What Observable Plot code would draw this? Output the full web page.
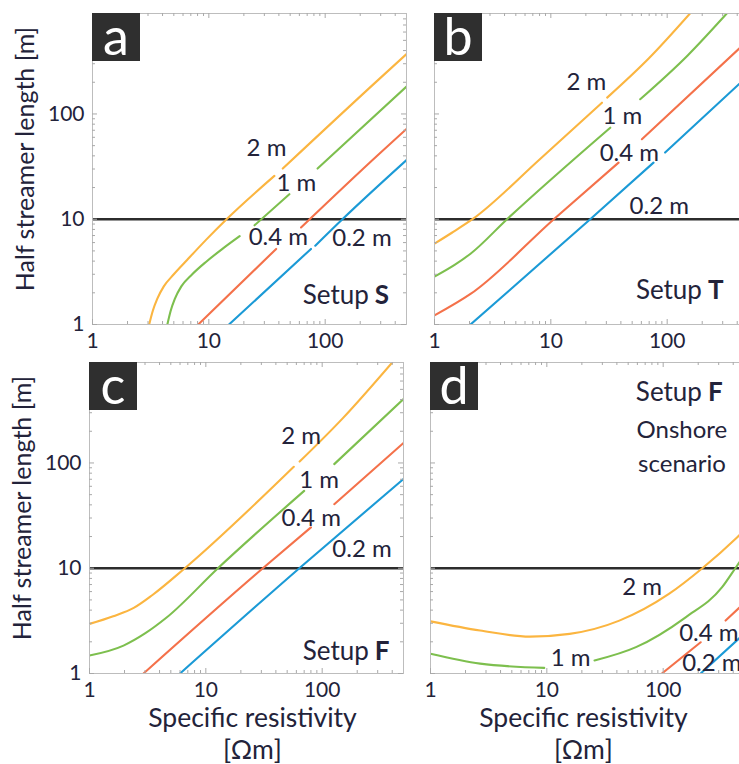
<!DOCTYPE html>
<html>
<head>
<meta charset="utf-8">
<script src="https://cdn.jsdelivr.net/npm/d3@7"></script>
<script src="https://cdn.jsdelivr.net/npm/@observablehq/plot@0.6"></script>
<style>
  body { margin: 0; background: #fff; }
  #fig { position: relative; width: 739px; height: 764px; overflow: hidden; background: #fff; font-family: Lato, sans-serif; }
  #fig svg { position: absolute; max-width: none; }
  .tag { position: absolute; width: 48px; height: 48px; background: #2f2f2f; color: #fff;
         font: 52px/44px Lato, sans-serif; text-align: center; }
</style>
</head>
<body>
<div id="fig"></div>
<script>
// Electrode spacings, one curve each
const spacings = ["2 m", "1 m", "0.4 m", "0.2 m"];
const colors = ["#fbb540", "#7dbf4e", "#f4714a", "#1b9ad6"];

// Axes: specific resistivity [Ωm] and half streamer length [m], both logarithmic
const xDomain = [1, 500];
const yDomain = [1, 900];
const xTicks = [1, 10, 100];
const yTicks = [1, 10, 100];
const threshold = 10;

// Curves as [resistivity, half streamer length]; null = break in the line
// (a) Setup S
const s2m  = [[3.07, 1], [3.3, 1.35], [3.6, 1.75], [4.1, 2.3], [5, 3.0], [6.5, 4.1], [9.5, 6.4], [14.2, 10], [36.6, 25.8], null, [43.2, 30.3], [289, 213], [500, 370]];
const s1m  = [[4.4, 1], [4.7, 1.35], [5.1, 1.75], [5.8, 2.3], [7.2, 3.0], [9.5, 3.95], [13, 5.2], [18.4, 6.9], null, [24.7, 8.75], [49.2, 17.3], null, [86, 30.3], [500, 182]];
const s04m = [[8.11, 1], [37.9, 5.22], null, [62, 8.36], [289, 41.5], [500, 72]];
const s02m = [[14.9, 1], [75.5, 5.22], null, [82.2, 5.61], [140.6, 10], [500, 36.5]];

// (b) Setup T
const t2m  = [[1, 5.86], [1.4, 7.4], [2.12, 10], [8, 37], [27.5, 128], null, [30.5, 143], [70, 340], [157, 900]];
const t1m  = [[1, 2.85], [1.5, 3.7], [2.04, 4.7], [4.2, 10], [32.4, 74], null, [58.6, 138], [150, 360], [325, 900]];
const t04m = [[1, 1.22], [2.04, 1.95], [10.6, 10], [38.2, 34.5], null, [60.6, 57.5], [500, 505]];
const t02m = [[2.04, 1], [21.8, 10], [76.3, 34.5], null, [96, 43], [500, 233]];

// (c) Setup F
const f2m  = [[1, 2.96], [1.6, 3.5], [2.4, 4.2], [3.5, 5.6], [6.6, 10], [57, 92], null, [64, 103], [150, 265], [400, 900]];
const f1m  = [[1, 1.48], [1.96, 1.84], [3, 2.4], [4.6, 3.4], [12.7, 10], [70, 54.3], null, [127, 97.5], [500, 404]];
const f04m = [[2.91, 1], [30.9, 10], [80, 24.4], null, [127, 40.6], [500, 155]];
const f02m = [[6, 1], [63.6, 10], [500, 70.5]];

// (d) Setup F, onshore scenario
const o2m  = [[1, 3.13], [2.67, 2.56], [7.16, 2.24], [15.7, 2.38], [42, 3.18], [112, 5.7], [217, 10], [431, 19.6], [500, 23]];
const o1m  = [[1, 1.54], [2.67, 1.24], [9.5, 1.13], null, [25.7, 1.33], [58.4, 1.78], [156, 3.42], [321, 6.6], [417, 10], [500, 13.4]];
const o04m = [[97.5, 1], [210, 1.98], null, [344, 3.18], [500, 4.7]];
const o02m = [[210, 1], [500, 2.4]];

// Curve labels, anchored in data units
const sLabels = [{x: 31.3, y: 47.6, text: "2 m"}, {x: 56.5, y: 21.7, text: "1 m"}, {x: 39.6, y: 6.68, text: "0.4 m"}, {x: 207, y: 6.53, text: "0.2 m"}];
const tLabels = [{x: 20.2, y: 198, text: "2 m"}, {x: 41.2, y: 95.7, text: "1 m"}, {x: 47.3, y: 42.7, text: "0.4 m"}, {x: 85.5, y: 13.4, text: "0.2 m"}];
const fLabels = [{x: 66, y: 180, text: "2 m"}, {x: 94.3, y: 69, text: "1 m"}, {x: 80.5, y: 30.1, text: "0.4 m"}, {x: 220, y: 15, text: "0.2 m"}];
const oLabels = [{x: 66, y: 6.53, text: "2 m"}, {x: 16, y: 1.39, text: "1 m"}, {x: 247, y: 2.39, text: "0.4 m"}, {x: 262, y: 1.24, text: "0.2 m"},
                 {x: 145, y: 206, text: "Onshore"}, {x: 145, y: 98, text: "scenario"}];

const ink = "#23233a";
const tickColor = "#a9a9a9";
const W = 314, H = 311;

function rowsOf(curves) {
  return curves.flatMap((pts, i) => {
    let seg = 0;
    return pts.flatMap(p => p === null ? (seg++, []) : [{spacing: spacings[i], seg: `${i}-${seg}`, x: p[0], y: p[1]}]);
  });
}

const xMinor = d3.scaleLog().domain(xDomain).ticks().filter(v => v < xDomain[1] && !xTicks.includes(v));
const yMinor = d3.scaleLog().domain(yDomain).ticks().filter(v => v < yDomain[1] && !yTicks.includes(v));

function frameTicks(xs, ys, len) {
  return [
    Plot.tickX(xs, {x: d => d, insetTop: H - len, stroke: tickColor}),
    Plot.tickX(xs, {x: d => d, insetBottom: H - len, stroke: tickColor}),
    Plot.tickY(ys, {y: d => d, insetRight: W - len, stroke: tickColor}),
    Plot.tickY(ys, {y: d => d, insetLeft: W - len, stroke: tickColor})
  ];
}

function panel({curves, labels, setup, tag, left, top, showY, bottomRow, titleDx = 0}) {
  const mL = 92, mT = 13, mR = 2, mB = bottomRow ? 90 : 30;
  const marks = [
    Plot.ruleY([threshold], {stroke: "#2c2c2c", strokeWidth: 2.6}),
    Plot.line(rowsOf(curves), {x: "x", y: "y", z: "seg", stroke: "spacing", strokeWidth: 2.1, curve: "monotone-x", clip: true}),
    Plot.frame({stroke: "#bdbdbd"}),
    ...frameTicks(xMinor, yMinor, 3),
    ...frameTicks(xTicks, yTicks, 5),
    Plot.axisX(xTicks, {tickSize: 0, tickPadding: 9, tickFormat: d => String(d), fontSize: 21, label: null}),
    Plot.text(labels, {x: "x", y: "y", text: "text", fontSize: 24, fill: ink}),
    Plot.text([setup], {x: "x", y: "y", text: () => "Setup", textAnchor: "end", dx: -2, fontSize: 26, fill: ink}),
    Plot.text([setup], {x: "x", y: "y", text: "letter", textAnchor: "start", dx: 4, fontSize: 26, fontWeight: "bold", fill: ink})
  ];
  if (showY) {
    marks.push(
      Plot.axisY(yTicks, {tickSize: 0, tickPadding: 8, tickFormat: d => String(d), fontSize: 21, label: null}),
      Plot.text(["Half streamer length [m]"], {frameAnchor: "left", textAnchor: "middle", lineAnchor: "middle", rotate: -90, dx: -67, dy: -10, fontSize: 25, fill: ink})
    );
  }
  if (bottomRow) {
    marks.push(
      Plot.text(["Specific resistivity"], {frameAnchor: "bottom", textAnchor: "middle", lineAnchor: "middle", dx: titleDx, dy: 45, fontSize: 26.5, fill: ink}),
      Plot.text(["[Ωm]"], {frameAnchor: "bottom", textAnchor: "middle", lineAnchor: "middle", dx: titleDx, dy: 77, fontSize: 26.5, fill: ink})
    );
  }
  const svg = Plot.plot({
    width: mL + W + mR, height: mT + H + mB,
    marginLeft: mL, marginTop: mT, marginRight: mR, marginBottom: mB,
    x: {type: "log", domain: xDomain},
    y: {type: "log", domain: yDomain, axis: showY ? undefined : null},
    color: {domain: spacings, range: colors},
    style: {fontFamily: "Lato, sans-serif", color: ink, background: "transparent", overflow: "visible"},
    marks
  });
  svg.style.left = `${left - mL}px`;
  svg.style.top = `${top - mT}px`;
  const fig = document.getElementById("fig");
  fig.appendChild(svg);
  const box = document.createElement("div");
  box.className = "tag";
  box.textContent = tag;
  box.style.left = `${left}px`;
  box.style.top = `${top}px`;
  fig.appendChild(box);
}

panel({curves: [s2m, s1m, s04m, s02m], labels: sLabels, setup: {x: 247, y: 1.88, letter: "S"}, tag: "a", left: 92, top: 13, showY: true});
panel({curves: [t2m, t1m, t04m, t02m], labels: tLabels, setup: {x: 207, y: 2.1, letter: "T"}, tag: "b", left: 434, top: 13, showY: false});
panel({curves: [f2m, f1m, f04m, f02m], labels: fLabels, setup: {x: 262, y: 1.62, letter: "F"}, tag: "c", left: 89, top: 362, showY: true, bottomRow: true, titleDx: 6});
panel({curves: [o2m, o1m, o04m, o02m], labels: oLabels, setup: {x: 224, y: 464, letter: "F"}, tag: "d", left: 430, top: 362, showY: false, bottomRow: true, titleDx: -4});
</script>
</body>
</html>
